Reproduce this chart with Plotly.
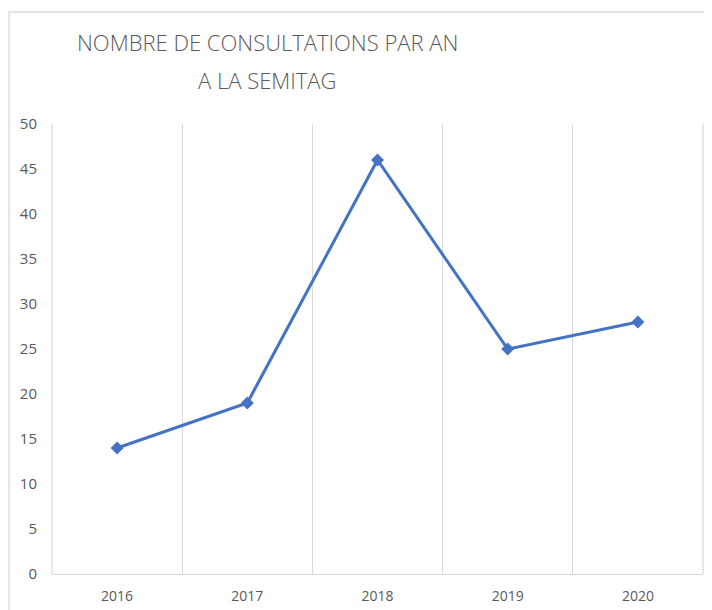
import plotly.graph_objects as go

years = ["2016", "2017", "2018", "2019", "2020"]
consultations = [14, 19, 46, 25, 28]
y_ticks = [0, 5, 10, 15, 20, 25, 30, 35, 40, 45, 50]
title_lines = ["NOMBRE DE CONSULTATIONS PAR AN", "A LA SEMITAG"]

# page offset (body margin) of 8 px is compensated in the margins
OFF = 8
W, H = 712, 610
L, T = 52 - OFF, 124 - OFF
R = W - (703 - OFF)
B = H - (574 - OFF)
pw = W - L - R
ph = H - T - B

def px_x(p):
    return (p - OFF - L) / pw

def px_y(p):
    return (H - B - (p - OFF)) / ph

fig = go.Figure()
fig.add_trace(go.Scatter(
    x=years, y=consultations, mode="lines+markers",
    line=dict(color="#4472C4", width=3),
    marker=dict(symbol="diamond", size=10, color="#4472C4"),
    showlegend=False, hoverinfo="x+y",
))

fig.update_layout(
    width=W, height=H,
    margin=dict(l=L, r=R, t=T, b=B),
    paper_bgcolor="white", plot_bgcolor="white",
    font=dict(family="Open Sans, DejaVu Sans, sans-serif", color="#595959"),
    xaxis=dict(
        type="category", range=[-0.5, 4.5], tickson="boundaries",
        showgrid=True, gridcolor="#d9d9d9", gridwidth=1.3,
        showline=True, linecolor="#d9d9d9", linewidth=1.3,
        ticks="", tickfont=dict(size=14, color="#595959"),
        ticklabelstandoff=9, zeroline=False, fixedrange=True,
    ),
    yaxis=dict(
        range=[0, 50], tickvals=y_ticks, showgrid=False, zeroline=False,
        showline=False, ticks="", tickfont=dict(size=15, color="#595959"),
        ticklabelstandoff=14, fixedrange=True,
    ),
    shapes=[dict(
        type="rect", xref="paper", yref="paper",
        x0=px_x(9), x1=px_x(740), y0=px_y(650), y1=px_y(12),
        line=dict(color="#d9d9d9", width=1.3), layer="below",
    ), dict(
        type="line", xref="paper", yref="paper",
        x0=0, x1=0, y0=0, y1=1,
        line=dict(color="#d9d9d9", width=1.3), layer="below",
    ), dict(
        type="line", xref="paper", yref="paper",
        x0=1, x1=1, y0=0, y1=1,
        line=dict(color="#d9d9d9", width=1.3), layer="below",
    )],
    annotations=[dict(
        text=txt,
        xref="paper", yref="paper", x=px_x(267), y=px_y(yc),
        xanchor="center", yanchor="middle", showarrow=False,
        font=dict(family="Open Sans, sans-serif", size=22, color="#595959", weight=300),
    ) for txt, yc in zip(title_lines, [42, 80])],
)

fig.write_html("out.html")
